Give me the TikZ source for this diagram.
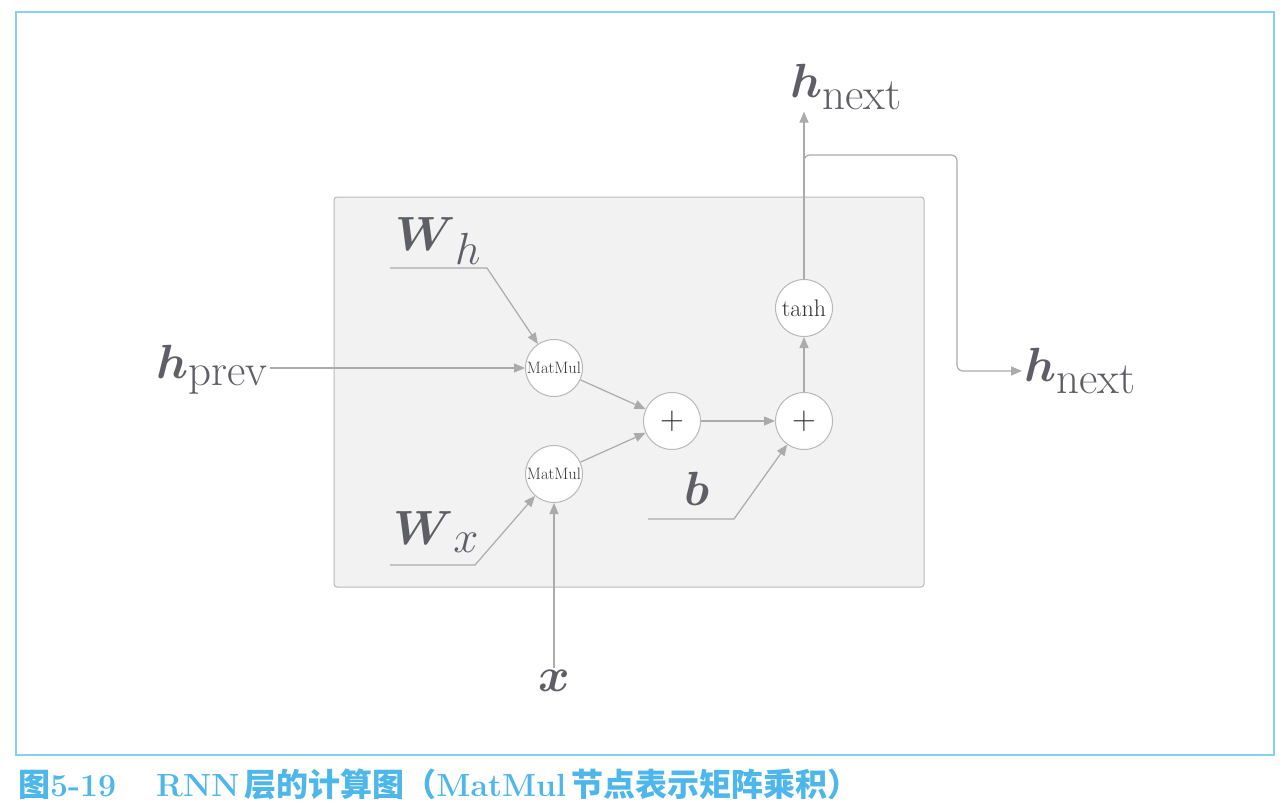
\RequirePackage{fix-cm}
\documentclass[tikz,border=0pt]{standalone}
\usepackage{amsmath}
\usepackage{amsfonts}
\usepackage{fontspec}
\newfontfamily\cjk{Noto Sans CJK SC}
\usepackage{tikz}
\usetikzlibrary{arrows.meta, positioning}
\usepackage{xcolor}
\definecolor{lblgray}{HTML}{5E5E66}
\definecolor{linegray}{HTML}{ABABAB}
\definecolor{circgray}{HTML}{B8B8B8}
\definecolor{boxgray}{HTML}{F2F2F2}
\definecolor{framecyan}{HTML}{86D1F0}
\definecolor{capblue}{HTML}{4DB6EA}
\newcommand{\lsub}[1]{\mbox{\fontsize{45}{48}\selectfont #1}}

\begin{document}
\begin{tikzpicture}[x=1pt, y=-1pt,
    opnode/.style={circle, draw=circgray, fill=white, line width=1pt,
      minimum size=57pt, inner sep=0pt, text=black!80},
    lbl/.style={text=lblgray, inner sep=2pt, font=\fontsize{48}{54}\selectfont},
    conn/.style={draw=linegray, line width=1.2pt},
    arr/.style={conn, -{Triangle[length=11pt, width=9pt]}}]
   \useasboundingbox (0,0) rectangle (1284,808);
   \draw[framecyan, line width=1.5pt] (16,12) rectangle (1274,755);
   \draw[circgray, fill=boxgray, line width=1pt, rounded corners=3pt]
     (334,197) rectangle (924,587);

   % operations
   \node[opnode, font=\fontsize{16.5}{18}\selectfont] (mm1) at (554,368) {MatMul};
   \node[opnode, font=\fontsize{16.5}{18}\selectfont] (mm2) at (554,474) {MatMul};
   \node[opnode, font=\fontsize{33}{36}\selectfont] (add1) at (672,421) {$+$};
   \node[opnode, font=\fontsize{33}{36}\selectfont] (add2) at (804,421) {$+$};
   \node[opnode, font=\fontsize{24}{28}\selectfont] (tanh) at (804,308) {tanh};

   % inputs and outputs
   \node[lbl] (hprev) at (212,370) {$\boldsymbol{h}_{\lsub{prev}}$};
   \node[lbl] (wh) at (438,241) {$\boldsymbol{W}_{\lsub{$h$}}$};
   \node[lbl] (wx) at (436,532) {$\boldsymbol{W}_{\lsub{$x$}}$};
   \node[lbl] (b) at (697,489) {$\boldsymbol{b}$};
   \node[lbl] (x) at (554,681) {$\boldsymbol{x}$};
   \node[lbl] (hnext) at (846,87) {$\boldsymbol{h}_{\lsub{next}}$};
   \node[lbl] (hout) at (1080,371) {$\boldsymbol{h}_{\lsub{next}}$};

   \coordinate (wh0) at (390,268);
   \coordinate (wh1) at (487,268);
   \coordinate (wx0) at (390,565);
   \coordinate (wx1) at (475,565);
   \coordinate (b0) at (648,519);
   \coordinate (b1) at (734,519);
   \coordinate (split) at (804,170);
   \coordinate (turn) at (957,155);

   \draw[arr] (hprev.east |- mm1) -- (mm1);
   \draw[arr] (wh0) -- (wh1) -- (mm1);
   \draw[arr] (wx0) -- (wx1) -- (mm2);
   \draw[arr] (x) -- (mm2);
   \draw[arr] (mm1) -- (add1);
   \draw[arr] (mm2) -- (add1);
   \draw[arr] (add1) -- (add2);
   \draw[arr] (b0) -- (b1) -- (add2);
   \draw[arr] (add2) -- (tanh);
   \draw[arr] (tanh) -- (tanh |- hnext.south);
   \draw[arr, rounded corners=6pt] (split) |- (turn) |- (hout.west);

   % caption
   \node[anchor=base west, inner sep=0pt, text=capblue,
     font=\fontsize{32}{36}\selectfont\bfseries] (cap) at (18,796)
     {{\cjk 图}5-19\hspace{40pt}RNN\hspace{5pt}{\cjk 层的计算图（}MatMul\hspace{5pt}{\cjk 节点表示矩阵乘积）}};
\end{tikzpicture}
\end{document}
